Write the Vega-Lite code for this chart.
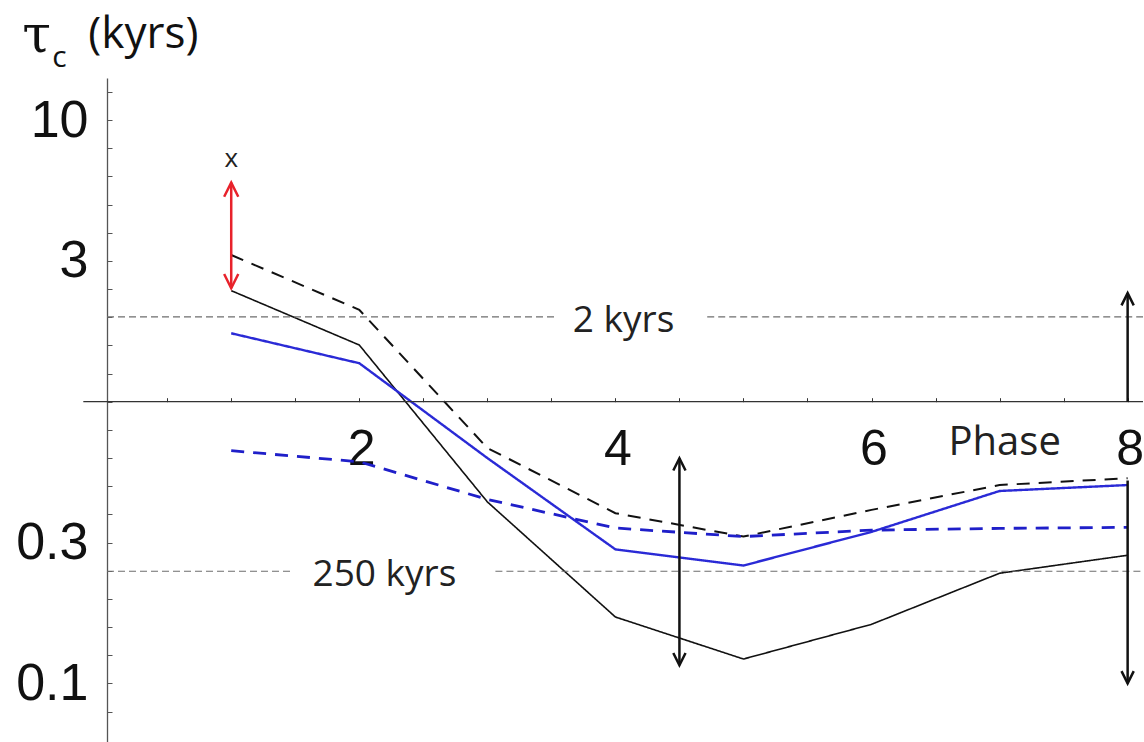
{
  "$schema": "https://vega.github.io/schema/vega-lite/v6.json",
  "width": 1036,
  "height": 664,
  "autosize": {"type": "none"},
  "padding": {"left": 107, "top": 78, "right": 1, "bottom": 0},
  "background": "white",
  "config": {"view": {"stroke": null}, "axis": {"title": null, "grid": false}},
  "resolve": {"scale": {"color": "independent", "shape": "independent"}},
  "datasets": {
    "series": [
      {"phase": 1, "tau": 2.48, "model": "black solid"},
      {"phase": 2, "tau": 1.59, "model": "black solid"},
      {"phase": 3, "tau": 0.441, "model": "black solid"},
      {"phase": 4, "tau": 0.172, "model": "black solid"},
      {"phase": 5, "tau": 0.122, "model": "black solid"},
      {"phase": 6, "tau": 0.162, "model": "black solid"},
      {"phase": 7, "tau": 0.246, "model": "black solid"},
      {"phase": 8, "tau": 0.285, "model": "black solid"},
      {"phase": 1, "tau": 3.32, "model": "black dashed"},
      {"phase": 2, "tau": 2.12, "model": "black dashed"},
      {"phase": 3, "tau": 0.685, "model": "black dashed"},
      {"phase": 4, "tau": 0.402, "model": "black dashed"},
      {"phase": 5, "tau": 0.332, "model": "black dashed"},
      {"phase": 6, "tau": 0.413, "model": "black dashed"},
      {"phase": 7, "tau": 0.506, "model": "black dashed"},
      {"phase": 8, "tau": 0.535, "model": "black dashed"},
      {"phase": 1, "tau": 1.75, "model": "blue solid"},
      {"phase": 2, "tau": 1.37, "model": "blue solid"},
      {"phase": 3, "tau": 0.631, "model": "blue solid"},
      {"phase": 4, "tau": 0.299, "model": "blue solid"},
      {"phase": 5, "tau": 0.262, "model": "blue solid"},
      {"phase": 6, "tau": 0.345, "model": "blue solid"},
      {"phase": 7, "tau": 0.482, "model": "blue solid"},
      {"phase": 8, "tau": 0.506, "model": "blue solid"},
      {"phase": 1, "tau": 0.67, "model": "blue dashed"},
      {"phase": 2, "tau": 0.612, "model": "blue dashed"},
      {"phase": 3, "tau": 0.45, "model": "blue dashed"},
      {"phase": 4, "tau": 0.356, "model": "blue dashed"},
      {"phase": 5, "tau": 0.332, "model": "blue dashed"},
      {"phase": 6, "tau": 0.35, "model": "blue dashed"},
      {"phase": 7, "tau": 0.355, "model": "blue dashed"},
      {"phase": 8, "tau": 0.358, "model": "blue dashed"}
    ],
    "refs": [
      {"tau": 2, "start": 0.03, "end": 3.546},
      {"tau": 2, "start": 4.717, "end": 8.12},
      {"tau": 0.25, "start": 0.03, "end": 1.488},
      {"tau": 0.25, "start": 3.063, "end": 8.12}
    ],
    "refLabels": [
      {"phase": 4.064, "tau": 2, "label": "2 kyrs"},
      {"phase": 2.196, "tau": 0.25, "label": "250 kyrs"}
    ],
    "arrows": [
      {"phase": 1, "low": 2.53, "high": 6.0, "kind": "highlight"},
      {"phase": 4.5, "low": 0.116, "high": 0.63, "kind": "range"},
      {"phase": 8, "low": 1, "high": 2.43, "kind": "range"},
      {"phase": 8, "low": 0.1, "high": 0.525, "kind": "range"}
    ],
    "heads": [
      {"phase": 1, "tau": 6.0, "dir": "up", "kind": "highlight"},
      {"phase": 1, "tau": 2.53, "dir": "down", "kind": "highlight"},
      {"phase": 4.5, "tau": 0.63, "dir": "up", "kind": "range"},
      {"phase": 4.5, "tau": 0.116, "dir": "down", "kind": "range"},
      {"phase": 8, "tau": 2.43, "dir": "up", "kind": "range"},
      {"phase": 8, "tau": 0.1, "dir": "down", "kind": "range"}
    ]
  },
  "layer": [
    {
      "data": {"name": "series"},
      "mark": {"type": "line", "strokeCap": "butt"},
      "encoding": {
        "x": {
          "field": "phase", "type": "quantitative",
          "scale": {"type": "linear", "domain": [0.03, 8.12], "nice": false, "zero": false},
          "axis": {
            "orient": "bottom", "offset": -340.3, "domain": false, "grid": false, "title": null,
            "values": [0.5, 1, 1.5, 2, 2.5, 3, 3.5, 4, 4.5, 5, 5.5, 6, 6.5, 7, 7.5, 8],
            "labelExpr": "datum.value % 2 == 0 ? '' + datum.value : ''",
            "labelFont": "Liberation Sans", "labelFontSize": 50, "labelColor": "#111111",
            "labelBaseline": "alphabetic", "labelPadding": 67, "labelOffset": 2, "labelOverlap": false, "labelFlush": false,
            "tickSize": -4, "tickColor": "#333333", "tickWidth": 1
          }
        },
        "y": {
          "field": "tau", "type": "quantitative",
          "scale": {"type": "log", "domain": [0.0619, 14.11], "nice": false},
          "axis": {
            "orient": "left", "grid": false, "title": null,
            "values": [0.0794, 0.1, 0.1259, 0.1585, 0.1995, 0.2512, 0.3162, 0.3981, 0.5012, 0.631, 0.7943, 1, 1.2589, 1.5849, 1.9953, 2.5119, 3.1623, 3.9811, 5.0119, 6.3096, 7.9433, 10, 12.589],
            "labelExpr": "datum.value == 10 ? '10' : (abs(datum.value - 3.1623) < 0.01 ? '3' : (abs(datum.value - 0.3162) < 0.001 ? '0.3' : (datum.value == 0.1 ? '0.1' : '')))",
            "labelFont": "Liberation Sans", "labelFontSize": 52, "labelColor": "#111111",
            "labelPadding": 24, "labelOverlap": false, "labelFlush": false, "labelBaseline": "middle",
            "tickSize": -5,
            "tickColor": "#555555", "tickWidth": 1, "domainColor": "#555555", "domainWidth": 1.3
          }
        },
        "color": {"field": "model", "type": "nominal", "scale": {"domain": ["black solid", "black dashed", "blue solid", "blue dashed"], "range": ["#111111", "#111111", "#2a2ad6", "#1f1fc9"]}, "legend": null},
        "strokeDash": {"field": "model", "type": "nominal", "scale": {"domain": ["black solid", "black dashed", "blue solid", "blue dashed"], "range": [[1, 0], [13, 9], [1, 0], [13, 9]]}, "legend": null},
        "strokeWidth": {"field": "model", "type": "ordinal", "scale": {"domain": ["black solid", "black dashed", "blue solid", "blue dashed"], "range": [1.6, 2.8, 1.6, 3]}, "legend": null}
      }
    },
    {
      "data": {"name": "refs"},
      "mark": {"type": "rule", "color": "#6e6e6e", "strokeWidth": 1.2, "strokeDash": [7, 4]},
      "encoding": {
        "x": {"field": "start", "type": "quantitative", "scale": {"type": "linear", "domain": [0.03, 8.12], "nice": false, "zero": false}},
        "x2": {"field": "end"},
        "y": {"field": "tau", "type": "quantitative", "scale": {"type": "log", "domain": [0.0619, 14.11], "nice": false}}
      }
    },
    {
      "data": {"values": [{}]},
      "mark": {"type": "rule", "color": "#333333", "strokeWidth": 1.3},
      "encoding": {
        "x": {"datum": -0.155, "type": "quantitative", "scale": {"type": "linear", "domain": [0.03, 8.12], "nice": false, "zero": false}},
        "x2": {"datum": 8.12},
        "y": {"datum": 1, "type": "quantitative", "scale": {"type": "log", "domain": [0.0619, 14.11], "nice": false}}
      }
    },
    {
      "data": {"name": "arrows"},
      "mark": {"type": "rule", "strokeWidth": 2.5},
      "encoding": {
        "x": {"field": "phase", "type": "quantitative", "scale": {"type": "linear", "domain": [0.03, 8.12], "nice": false, "zero": false}},
        "y": {"field": "low", "type": "quantitative", "scale": {"type": "log", "domain": [0.0619, 14.11], "nice": false}},
        "y2": {"field": "high"},
        "color": {"field": "kind", "type": "nominal", "scale": {"domain": ["highlight", "range"], "range": ["#e8222b", "#111111"]}, "legend": null}
      }
    },
    {
      "data": {"name": "heads"},
      "mark": {"type": "point", "filled": false, "strokeWidth": 2.5, "opacity": 1},
      "encoding": {
        "x": {"field": "phase", "type": "quantitative", "scale": {"type": "linear", "domain": [0.03, 8.12], "nice": false, "zero": false}},
        "y": {"field": "tau", "type": "quantitative", "scale": {"type": "log", "domain": [0.0619, 14.11], "nice": false}},
        "shape": {"field": "dir", "type": "nominal", "scale": {"domain": ["up", "down"], "range": ["M-1,2L0,0L1,2", "M-1,-2L0,0L1,-2"]}, "legend": null},
        "size": {"field": "kind", "type": "nominal", "scale": {"domain": ["highlight", "range"], "range": [200, 150]}, "legend": null},
        "color": {"field": "kind", "type": "nominal", "scale": {"domain": ["highlight", "range"], "range": ["#e8222b", "#111111"]}, "legend": null}
      }
    },
    {
      "data": {"name": "refLabels"},
      "mark": {"type": "text", "font": "Open Sans", "fontSize": 37, "color": "#222222", "align": "center", "baseline": "alphabetic", "dy": 15},
      "encoding": {
        "x": {"field": "phase", "type": "quantitative", "scale": {"type": "linear", "domain": [0.03, 8.12], "nice": false, "zero": false}},
        "y": {"field": "tau", "type": "quantitative", "scale": {"type": "log", "domain": [0.0619, 14.11], "nice": false}},
        "text": {"field": "label"}
      }
    },
    {
      "data": {"values": [{}]},
      "mark": {"type": "text", "text": "Phase", "font": "Open Sans", "fontSize": 40, "color": "#222222", "align": "center", "baseline": "alphabetic", "dy": 53},
      "encoding": {
        "x": {"datum": 7.04, "type": "quantitative", "scale": {"type": "linear", "domain": [0.03, 8.12], "nice": false, "zero": false}},
        "y": {"datum": 1, "type": "quantitative", "scale": {"type": "log", "domain": [0.0619, 14.11], "nice": false}}
      }
    },
    {
      "data": {"values": [{}]},
      "mark": {"type": "text", "text": "x", "font": "Open Sans", "fontSize": 26, "color": "#222222", "align": "center", "baseline": "middle"},
      "encoding": {
        "x": {"datum": 1, "type": "quantitative", "scale": {"type": "linear", "domain": [0.03, 8.12], "nice": false, "zero": false}},
        "y": {"datum": 7.26, "type": "quantitative", "scale": {"type": "log", "domain": [0.0619, 14.11], "nice": false}}
      }
    },
    {
      "data": {"values": [{}]},
      "mark": {"type": "text", "text": "τ", "font": "DejaVu Serif", "fontSize": 52, "color": "#111111", "align": "left", "baseline": "alphabetic"},
      "encoding": {
        "x": {"datum": -0.632, "type": "quantitative", "scale": {"type": "linear", "domain": [0.03, 8.12], "nice": false, "zero": false}},
        "y": {"datum": 17.45, "type": "quantitative", "scale": {"type": "log", "domain": [0.0619, 14.11], "nice": false}}
      }
    },
    {
      "data": {"values": [{}]},
      "mark": {"type": "text", "text": "c", "font": "Open Sans", "fontSize": 30, "color": "#111111", "align": "left", "baseline": "alphabetic"},
      "encoding": {
        "x": {"datum": -0.397, "type": "quantitative", "scale": {"type": "linear", "domain": [0.03, 8.12], "nice": false, "zero": false}},
        "y": {"datum": 15.5, "type": "quantitative", "scale": {"type": "log", "domain": [0.0619, 14.11], "nice": false}}
      }
    },
    {
      "data": {"values": [{}]},
      "mark": {"type": "text", "text": "(kyrs)", "font": "Open Sans", "fontSize": 44, "color": "#111111", "align": "left", "baseline": "alphabetic"},
      "encoding": {
        "x": {"datum": -0.116, "type": "quantitative", "scale": {"type": "linear", "domain": [0.03, 8.12], "nice": false, "zero": false}},
        "y": {"datum": 18, "type": "quantitative", "scale": {"type": "log", "domain": [0.0619, 14.11], "nice": false}}
      }
    }
  ]
}
